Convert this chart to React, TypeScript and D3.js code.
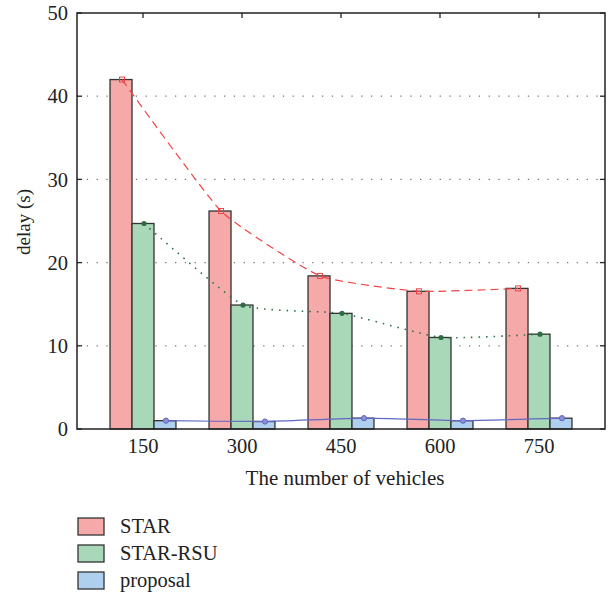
import React from 'react';
import * as d3 from 'd3';

// vehicle counts on x and delay (s) per method
const vehicles = [150, 300, 450, 600, 750];
const starDelay = [42.0, 26.2, 18.4, 16.55, 16.9];
const starRsuDelay = [24.7, 14.9, 13.9, 11.0, 11.4];
const proposalDelay = [1.0, 0.9, 1.3, 1.0, 1.3];
const yTicks = [0, 10, 20, 30, 40, 50];
const seriesNames = ['STAR', 'STAR-RSU', 'proposal'];

const fills = ['#f5a9a8', '#a9d8b9', '#aecfee'];
const lineColors = ['#ef4448', '#2e6e45', '#6268c2'];
const font = '"Liberation Serif", "Times New Roman", serif';

function App() {
  const width = 608;
  const height = 593;
  const left = 77, right = 605, top = 13, bottom = 429;

  const x = d3.scaleLinear().domain([50, 850]).range([left, right]);
  const y = d3.scaleLinear().domain([0, 50]).range([bottom, top]);
  const barW = x(50 + 33.3) - x(50);

  const series = [starDelay, starRsuDelay, proposalDelay];
  const offsets = [-1, 0, 1];

  const line = d3.line<[number, number]>()
    .x(d => d[0])
    .y(d => d[1])
    .curve(d3.curveCardinal.tension(0.55));

  const dashes = ['8,5', '1.5,6', null];

  return (
    <svg width={width} height={height} style={{ position: 'absolute', left: 0, top: 0 }} fontFamily={font}>
      <rect x={0} y={0} width={width} height={height} fill="#fff" />

      {/* grid */}
      {yTicks.filter(t => t > 0 && t < 50).map(t => (
        <line key={'g' + t} x1={left} x2={right} y1={y(t)} y2={y(t)}
          stroke="#777" strokeWidth={1.3} strokeDasharray="1.3,8.5" />
      ))}

      {/* bars */}
      {vehicles.map((v, i) => (
        <g key={'b' + v}>
          {series.map((s, k) => {
            const cx = x(v) + offsets[k] * barW;
            return (
              <rect key={k} x={cx - barW / 2} y={y(s[i])} width={barW} height={y(0) - y(s[i])}
                fill={fills[k]} stroke="#333" strokeWidth={1.3} />
            );
          })}
        </g>
      ))}

      {/* lines */}
      {series.map((s, k) => {
        const pts: [number, number][] = vehicles.map((v, i) => [x(v) + offsets[k] * barW + 1, y(s[i])]);
        return (
          <g key={'l' + k}>
            <path d={line(pts) || ''} fill="none" stroke={lineColors[k]} strokeWidth={k === 1 ? 1.6 : 1.2}
              strokeDasharray={dashes[k] || undefined} />
            {pts.map((p, i) => k === 0 ? (
              <rect key={i} x={p[0] - 2.5} y={p[1] - 2.5} width={5} height={5} fill="none" stroke={lineColors[0]} strokeWidth={1} />
            ) : k === 1 ? (
              <circle key={i} cx={p[0]} cy={p[1]} r={2.6} fill={lineColors[1]} />
            ) : (
              <circle key={i} cx={p[0]} cy={p[1]} r={2.6} fill="#8a8fd8" stroke={lineColors[2]} strokeWidth={1} />
            ))}
          </g>
        );
      })}

      {/* frame */}
      <rect x={left} y={top} width={right - left} height={bottom - top} fill="none" stroke="#222" strokeWidth={1.5} />

      {/* ticks */}
      {yTicks.map(t => (
        <g key={'y' + t}>
          <line x1={left} x2={left + 5} y1={y(t)} y2={y(t)} stroke="#222" strokeWidth={1.3} />
          <line x1={right - 5} x2={right} y1={y(t)} y2={y(t)} stroke="#222" strokeWidth={1.3} />
          <text x={left - 9} y={y(t)} dy="0.35em" textAnchor="end" fontSize={20.5} fill="#222">{t}</text>
        </g>
      ))}
      {vehicles.map(v => (
        <g key={'x' + v}>
          <line x1={x(v)} x2={x(v)} y1={top} y2={top + 5} stroke="#222" strokeWidth={1.3} />
          <text x={x(v)} y={bottom + 24} textAnchor="middle" fontSize={20.5} fill="#222">{v}</text>
        </g>
      ))}

      {/* axis labels */}
      <text x={(left + right) / 2 + 4} y={485} textAnchor="middle" fontSize={21} fill="#222">The number of vehicles</text>
      <text transform="translate(30,222) rotate(-90)" textAnchor="middle" fontSize={19} fill="#222">delay (s)</text>

      {/* legend */}
      {seriesNames.map((n, k) => (
        <g key={n} transform={`translate(78,${518 + k * 27})`}>
          <rect x={0} y={0} width={26} height={17} fill={fills[k]} stroke="#333" strokeWidth={1.3} />
          <text x={42} y={14.5} fontSize={20.5} fill="#222">{n}</text>
        </g>
      ))}
    </svg>
  );
}

export default App;
